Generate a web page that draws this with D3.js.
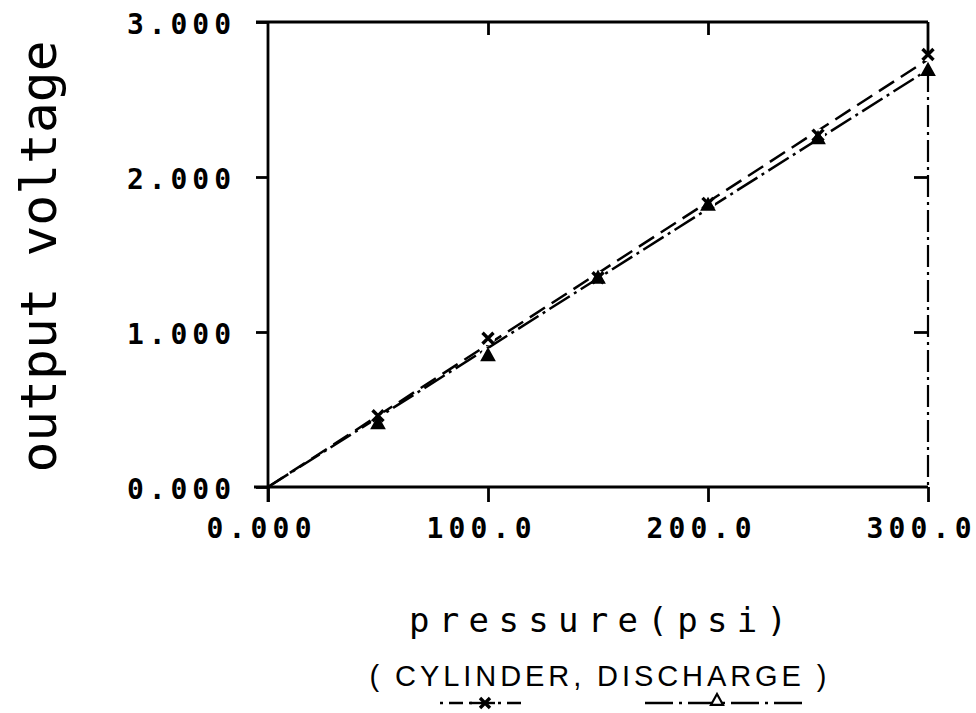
<!DOCTYPE html>
<html>
<head>
<meta charset="utf-8">
<script src="https://cdn.jsdelivr.net/npm/d3@7"></script>
<style>
  html, body { margin: 0; padding: 0; background: #fff; }
  svg { display: block; }
</style>
</head>
<body>
<svg id="chart" width="976" height="713"></svg>
<script>
// Sensor output versus applied pressure, two test fixtures
const pressure = [0, 50, 100, 150, 200, 250, 300];
const cylinder = [0, 0.46, 0.96, 1.35, 1.83, 2.27, 2.79];
const discharge = [0, 0.41, 0.85, 1.35, 1.82, 2.25, 2.69];
const xTicks = [0, 100, 200, 300];
const xTickLabels = ["0.000", "100.0", "200.0", "300.0"];
const yTicks = [0, 1, 2, 3];
const yTickLabels = ["0.000", "1.000", "2.000", "3.000"];

(function draw() {
const svg = d3.select("#chart");
const plotL = 268, plotR = 928, plotT = 22, plotB = 487;
const ink = "#000";
const mono = "'DejaVu Sans Mono', 'Liberation Mono', monospace";

const x = d3.scaleLinear().domain([0, 300]).range([plotL, plotR]);
const y = d3.scaleLinear().domain([0, 3]).range([plotB, plotT]);

// least-squares line through the origin for each series
function fitSlope(vals) {
  let sxy = 0, sxx = 0;
  pressure.forEach((p, i) => { sxy += p * vals[i]; sxx += p * p; });
  return sxy / sxx;
}
const dashCyl = "18,8";
const dashDis = "24,5,3,5";

const lineGen = d3.line().x(d => x(d[0])).y(d => y(d[1]));
[[cylinder, dashCyl], [discharge, dashDis]].forEach(([vals, dash]) => {
  const k = fitSlope(vals);
  const ends = [[0, 0], [300, 300 * k]];
  svg.append("path").attr("d", lineGen(ends))
    .attr("fill", "none").attr("stroke", ink).attr("stroke-width", 2.5)
    .attr("stroke-dasharray", dash);
});

// clear a little room round each plotted point
const g = svg.append("g");
pressure.forEach((p, i) => {
  if (p === 0) return;
  g.append("circle").attr("cx", x(p)).attr("cy", y(cylinder[i])).attr("r", 7).attr("fill", "#fff");
  g.append("circle").attr("cx", x(p)).attr("cy", y(discharge[i])).attr("r", 7).attr("fill", "#fff");
});

// axes
const axisStyle = sel => {
  sel.selectAll(".domain").attr("stroke", ink).attr("stroke-width", 2.8);
  sel.selectAll(".tick line").attr("stroke", ink).attr("stroke-width", 2.8);
};

const xAxis = svg.append("g").attr("transform", `translate(0,${plotB})`)
  .call(d3.axisBottom(x).tickValues(xTicks).tickSize(15).tickSizeOuter(0)
    .tickFormat((d, i) => xTickLabels[i]))
  .call(axisStyle);
xAxis.selectAll(".domain").attr("d", `M${plotL - 14},0H${plotR}`);
xAxis.selectAll(".tick text")
  .attr("font-family", mono).attr("font-size", 28).attr("font-weight", "bold").attr("fill", ink)
  .attr("text-anchor", "start").attr("x", -62).attr("y", 51).attr("dy", 0)
  .attr("textLength", 105).attr("lengthAdjust", "spacing");

const yAxis = svg.append("g").attr("transform", `translate(${plotL},0)`)
  .call(d3.axisLeft(y).tickValues(yTicks).tickSize(12).tickSizeOuter(0)
    .tickFormat((d, i) => yTickLabels[i]))
  .call(axisStyle);
yAxis.selectAll(".domain").attr("d", `M0,${plotB + 15}V${plotT}`);
yAxis.selectAll(".tick text")
  .attr("font-family", mono).attr("font-size", 28).attr("font-weight", "bold").attr("fill", ink)
  .attr("text-anchor", "end").attr("x", -37).attr("dy", "0.4em")
  .attr("textLength", 104).attr("lengthAdjust", "spacing");

// top frame with inward ticks
const topAxis = svg.append("g").attr("transform", `translate(0,${plotT})`)
  .call(d3.axisTop(x).tickValues([100, 200]).tickSize(-13).tickSizeOuter(0).tickFormat(""))
  .call(axisStyle);
topAxis.selectAll(".domain").attr("d", `M${plotL - 12},0H${plotR}`);

// right frame: inward ticks, solid down to the top point
const rightAxis = svg.append("g").attr("transform", `translate(${plotR},0)`)
  .call(d3.axisRight(y).tickValues([1, 2]).tickSize(-14).tickSizeOuter(0).tickFormat(""))
  .call(axisStyle);
rightAxis.selectAll(".domain").attr("d", `M0,${plotT}V${y(cylinder[cylinder.length - 1])}`);

// dash-dot drop from the last discharge point to the pressure axis
const last = pressure.length - 1;
svg.append("path")
  .attr("d", lineGen([[pressure[last], discharge[last]], [pressure[last], 0]]))
  .attr("stroke", ink).attr("stroke-width", 2.2).attr("fill", "none")
  .attr("stroke-dasharray", "22,5,3,5");

// markers
function cross(sel, cx, cy, s) {
  sel.append("path")
    .attr("d", `M${cx - s},${cy - s}L${cx + s},${cy + s}M${cx - s},${cy + s}L${cx + s},${cy - s}`)
    .attr("stroke", ink).attr("stroke-width", 3.4).attr("fill", "none");
}
function tri(sel, cx, cy, s, filled) {
  sel.append("path")
    .attr("d", `M${cx},${cy - s}L${cx + s},${cy + s * 0.8}L${cx - s},${cy + s * 0.8}Z`)
    .attr("fill", filled ? ink : "#fff").attr("stroke", ink).attr("stroke-width", 2.2);
}
const m = svg.append("g");
pressure.forEach((p, i) => {
  if (p === 0) return;
  cross(m, x(p), y(cylinder[i]), 5.5);
  tri(m, x(p), y(discharge[i]), 6, true);
});

// axis titles
svg.append("text")
  .attr("transform", `translate(56,${(plotT + plotB) / 2 + 2}) rotate(-90)`)
  .attr("text-anchor", "middle")
  .attr("font-family", mono).attr("font-size", 50).attr("fill", ink)
  .attr("textLength", 432).attr("lengthAdjust", "spacingAndGlyphs")
  .text("output voltage");

const cx = (plotL + plotR) / 2;
svg.append("text")
  .attr("x", cx).attr("y", 632).attr("text-anchor", "middle")
  .attr("font-family", mono).attr("font-size", 34).attr("fill", ink)
  .attr("textLength", 378).attr("lengthAdjust", "spacing")
  .text("pressure(psi)");

svg.append("text")
  .attr("x", cx).attr("y", 686).attr("text-anchor", "middle")
  .attr("font-family", "'Liberation Sans', Arial, sans-serif").attr("font-size", 29).attr("fill", ink)
  .attr("textLength", 457).attr("lengthAdjust", "spacing")
  .text("( CYLINDER, DISCHARGE )");

// legend keys under the series names
const legY = 703;
const lg = svg.append("g");
lg.append("path").attr("d", `M440,${legY}H525`)
  .attr("stroke", ink).attr("stroke-width", 2.4).attr("stroke-dasharray", "3,6,14,6");
lg.append("rect").attr("x", 478).attr("y", legY - 7).attr("width", 14).attr("height", 14).attr("fill", "#fff");
lg.append("path").attr("d", `M470,${legY}H495`).attr("stroke", ink).attr("stroke-width", 2.4);
cross(lg, 485, legY, 5);

lg.append("path").attr("d", `M645,${legY}H808`)
  .attr("stroke", ink).attr("stroke-width", 2.4).attr("stroke-dasharray", "28,6,3,6");
tri(lg, 717, legY - 3, 6, false);
})();
</script>
</body>
</html>
